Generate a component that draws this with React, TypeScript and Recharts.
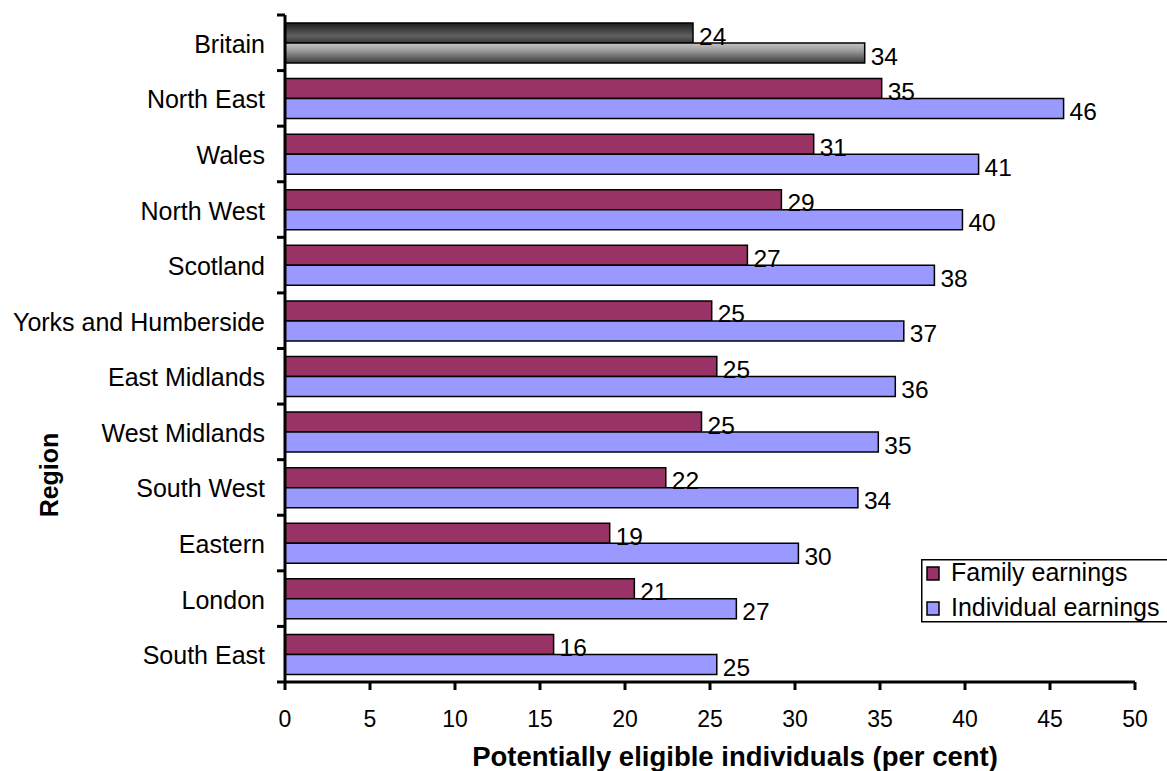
import React from 'react';
import { BarChart, Bar, XAxis, YAxis, Cell, LabelList, Legend, Label } from 'recharts';

const regions = ['Britain', 'North East', 'Wales', 'North West', 'Scotland', 'Yorks and Humberside', 'East Midlands', 'West Midlands', 'South West', 'Eastern', 'London', 'South East'];
const familyValues = [24.0, 35.1, 31.1, 29.2, 27.2, 25.1, 25.4, 24.5, 22.4, 19.1, 20.55, 15.8];
const individualValues = [34.1, 45.8, 40.8, 39.85, 38.2, 36.4, 35.9, 34.9, 33.7, 30.2, 26.55, 25.4];
const familyLabels = [24, 35, 31, 29, 27, 25, 25, 25, 22, 19, 21, 16];
const individualLabels = [34, 46, 41, 40, 38, 37, 36, 35, 34, 30, 27, 25];
const xTicks = [0, 5, 10, 15, 20, 25, 30, 35, 40, 45, 50];
const seriesNames = ['Family earnings', 'Individual earnings'];
const seriesColors = ['#993366', '#9999FF'];

const data = regions.map((r, i) => ({
  region: r,
  family: familyValues[i],
  individual: individualValues[i],
  familyLabel: familyLabels[i],
  individualLabel: individualLabels[i],
}));

const FONT = '"Liberation Sans", Arial, sans-serif';
const W = 1167;
const H = 771;
const MARGIN = { top: 15, right: 32, bottom: 0, left: 0 };
const Y_AXIS_W = 285;
const X_AXIS_H = 89;

function YTick(props: any) {
  const { x, y, payload, index, visibleTicksCount, height } = props;
  const plotH = typeof height === 'number' && height > 0 ? height : H - MARGIN.top - X_AXIS_H;
  const band = plotH / (visibleTicksCount || regions.length);
  return (
    <g>
      <line x1={x - 8} x2={x} y1={y - band / 2} y2={y - band / 2} stroke="#000" strokeWidth={3} />
      {index === visibleTicksCount - 1 && (
        <line x1={x - 8} x2={x} y1={y + band / 2} y2={y + band / 2} stroke="#000" strokeWidth={3} />
      )}
      <text x={x - 20} y={y + 10} textAnchor="end" fontSize={25} fontFamily={FONT} fill="#000">
        {payload.value}
      </text>
    </g>
  );
}

function XTick(props: any) {
  const { x, y, payload } = props;
  return (
    <text x={x} y={y + 35} textAnchor="middle" fontSize={23} fontFamily={FONT} fill="#000">
      {payload.value}
    </text>
  );
}

function renderValueLabel(props: any) {
  const { x, y, width, height, value } = props;
  return (
    <text x={x + width + 6} y={y + height + 1.5} fontSize={24.5} fontFamily={FONT} fill="#000">
      {value}
    </text>
  );
}

function LegendBox() {
  return (
    <svg width={260} height={64} style={{ display: 'block', overflow: 'visible' }}>
      <rect x={0.75} y={0.75} width={258} height={62} fill="#fff" stroke="#000" strokeWidth={1.5} />
      {seriesNames.map((name, i) => (
        <g key={name}>
          <rect x={6} y={8 + i * 35} width={12} height={13} fill={seriesColors[i]} stroke="#000" strokeWidth={1.5} />
          <text x={30} y={22 + i * 35} fontSize={25} fontFamily={FONT} fill="#000">
            {name}
          </text>
        </g>
      ))}
    </svg>
  );
}

export default function App() {
  return (
    <div style={{ position: 'absolute', left: 0, top: 0, width: W, height: H, overflow: 'hidden', background: '#fff' }}>
      <BarChart
        width={W}
        height={H}
        data={data}
        layout="vertical"
        margin={MARGIN}
        barGap={0}
        barSize={20}
      >
        <defs>
          <linearGradient id="gradFamily" x1="0" y1="0" x2="0" y2="1">
            <stop offset="0%" stopColor="#1e1e1e" />
            <stop offset="65%" stopColor="#606060" />
            <stop offset="100%" stopColor="#383838" />
          </linearGradient>
          <linearGradient id="gradIndividual" x1="0" y1="0" x2="0" y2="1">
            <stop offset="0%" stopColor="#c4c4c4" />
            <stop offset="35%" stopColor="#a0a0a0" />
            <stop offset="100%" stopColor="#3a3a3a" />
          </linearGradient>
        </defs>
        <XAxis
          type="number"
          domain={[0, 50]}
          ticks={xTicks}
          interval={0}
          height={X_AXIS_H}
          axisLine={{ stroke: '#000', strokeWidth: 3 }}
          tickLine={{ stroke: '#000', strokeWidth: 3 }}
          tickSize={8}
          tickMargin={2}
          tick={<XTick />}
        >
          <Label
            content={(p: any) => {
              const vb = p.viewBox || {};
              return (
                <text
                  x={(vb.x ?? 285) + (vb.width ?? 850) / 2 + 25}
                  y={766}
                  textAnchor="middle"
                  fontSize={27.5}
                  fontWeight="bold"
                  fontFamily={FONT}
                  fill="#000"
                >
                  Potentially eligible individuals (per cent)
                </text>
              );
            }}
          />
        </XAxis>
        <YAxis
          type="category"
          dataKey="region"
          width={Y_AXIS_W}
          interval={0}
          axisLine={{ stroke: '#000', strokeWidth: 3 }}
          tickLine={false}
          tickSize={0}
          tickMargin={0}
          tick={<YTick />}
        >
          <Label
            content={() => (
              <text
                x={58}
                y={475}
                transform="rotate(-90, 58, 475)"
                textAnchor="middle"
                fontSize={25}
                fontWeight="bold"
                fontFamily={FONT}
                fill="#000"
              >
                Region
              </text>
            )}
          />
        </YAxis>
        <Legend
          layout="vertical"
          align="center"
          verticalAlign="middle"
          wrapperStyle={{ left: 921, top: 559, width: 260, height: 64 }}
          content={() => <LegendBox />}
        />
        <Bar dataKey="family" fill={seriesColors[0]} stroke="#000" strokeWidth={1.5} isAnimationActive={false}>
          {data.map((d, i) => (
            <Cell key={d.region} fill={i === 0 ? 'url(#gradFamily)' : seriesColors[0]} />
          ))}
          <LabelList dataKey="familyLabel" content={renderValueLabel} />
        </Bar>
        <Bar dataKey="individual" fill={seriesColors[1]} stroke="#000" strokeWidth={1.5} isAnimationActive={false}>
          {data.map((d, i) => (
            <Cell key={d.region} fill={i === 0 ? 'url(#gradIndividual)' : seriesColors[1]} />
          ))}
          <LabelList dataKey="individualLabel" content={renderValueLabel} />
        </Bar>
      </BarChart>
    </div>
  );
}
